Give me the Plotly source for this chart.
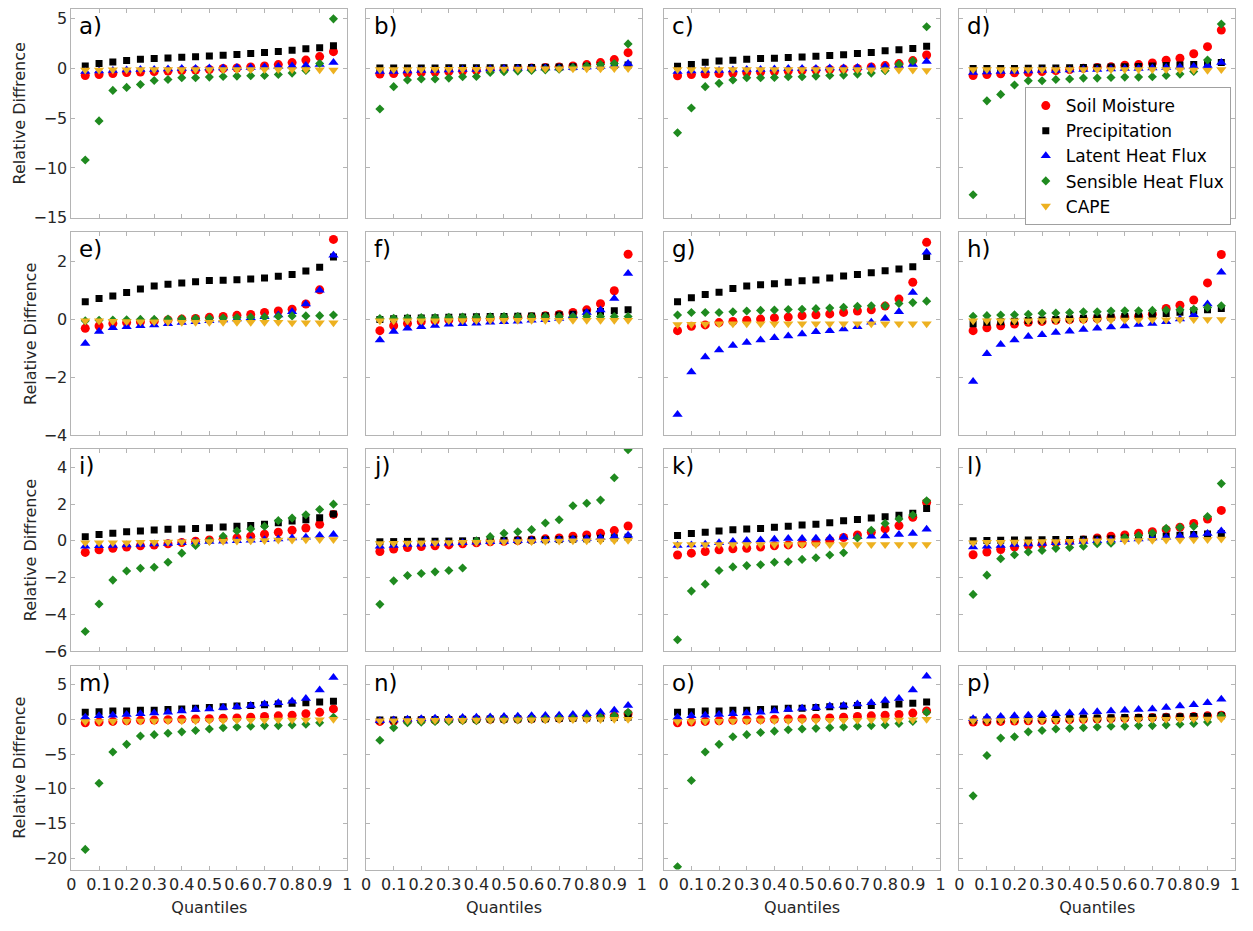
import plotly.graph_objects as go

# ---------------- data ----------------
quantiles = [0.05, 0.10, 0.15, 0.20, 0.25, 0.30, 0.35, 0.40, 0.45, 0.50,
             0.55, 0.60, 0.65, 0.70, 0.75, 0.80, 0.85, 0.90, 0.95]
xtick_vals = [0, 0.1, 0.2, 0.3, 0.4, 0.5, 0.6, 0.7, 0.8, 0.9, 1]
xtick_text = ["0", "0.1", "0.2", "0.3", "0.4", "0.5", "0.6", "0.7", "0.8", "0.9", "1"]

series_names = ["Soil Moisture", "Precipitation", "Latent Heat Flux", "Sensible Heat Flux", "CAPE"]
panel_labels = ["a)", "b)", "c)", "d)", "e)", "f)", "g)", "h)",
                "i)", "j)", "k)", "l)", "m)", "n)", "o)", "p)"]

row_ytick_vals = [[-15, -10, -5, 0, 5], [-4, -2, 0, 2], [-6, -4, -2, 0, 2, 4], [-20, -15, -10, -5, 0, 5]]
row_yranges = [[-15, 6], [-4, 3], [-6, 5], [-21.6, 7.7]]

# panel a
a_sm = [-0.7, -0.6, -0.5, -0.4, -0.35, -0.3, -0.25, -0.2, -0.15, -0.1, 0.0, 0.05, 0.15, 0.25, 0.4, 0.6, 0.85, 1.2, 1.7]
a_pr = [0.26, 0.5, 0.66, 0.8, 0.93, 1.0, 1.06, 1.13, 1.19, 1.26, 1.33, 1.42, 1.52, 1.62, 1.72, 1.85, 1.98, 2.1, 2.3]
a_lh = [-0.3, -0.25, -0.2, -0.15, -0.1, -0.1, -0.05, 0.0, 0.0, 0.05, 0.05, 0.1, 0.1, 0.15, 0.2, 0.25, 0.3, 0.4, 0.6]
a_sh = [-9.2, -5.27, -2.2, -1.9, -1.6, -1.2, -1.1, -0.93, -0.93, -0.86, -0.8, -0.76, -0.73, -0.7, -0.6, -0.46, -0.2, 0.5, 5.0]
a_cape = [-0.15, -0.15, -0.12, -0.12, -0.1, -0.1, -0.1, -0.1, -0.1, -0.1, -0.1, -0.1, -0.1, -0.1, -0.1, -0.1, -0.1, -0.12, -0.15]
# panel b
b_sm = [-0.55, -0.5, -0.45, -0.4, -0.35, -0.3, -0.25, -0.2, -0.1, -0.05, 0.0, 0.05, 0.1, 0.15, 0.25, 0.4, 0.6, 0.9, 1.6]
b_pr = [0.05, 0.05, 0.05, 0.06, 0.06, 0.07, 0.07, 0.08, 0.08, 0.09, 0.1, 0.1, 0.12, 0.15, 0.18, 0.22, 0.26, 0.3, 0.35]
b_lh = [-0.3, -0.3, -0.25, -0.2, -0.2, -0.15, -0.1, -0.1, -0.05, 0.0, 0.0, 0.0, 0.05, 0.05, 0.1, 0.15, 0.2, 0.3, 0.5]
b_sh = [-4.07, -1.82, -1.16, -1.06, -1.06, -0.96, -0.83, -0.8, -0.4, -0.33, -0.26, -0.2, -0.13, -0.07, 0.1, 0.26, 0.4, 0.5, 2.48]
b_cape = [-0.1, -0.1, -0.1, -0.1, -0.08, -0.08, -0.07, -0.06, -0.05, -0.05, -0.04, -0.04, -0.03, -0.03, -0.02, -0.02, -0.01, 0.0, 0.0]
# panel c
c_sm = [-0.73, -0.6, -0.55, -0.5, -0.45, -0.4, -0.35, -0.3, -0.25, -0.2, -0.15, -0.1, -0.05, 0.0, 0.15, 0.3, 0.5, 0.8, 1.36]
c_pr = [0.23, 0.4, 0.63, 0.76, 0.83, 0.93, 1.0, 1.03, 1.1, 1.16, 1.23, 1.32, 1.39, 1.52, 1.62, 1.79, 1.89, 2.02, 2.25]
c_lh = [-0.3, -0.25, -0.2, -0.2, -0.15, -0.1, -0.1, -0.05, 0.0, 0.0, 0.0, 0.05, 0.05, 0.1, 0.15, 0.2, 0.3, 0.4, 0.7]
c_sh = [-6.46, -3.97, -1.82, -1.49, -1.16, -0.93, -0.93, -0.9, -0.83, -0.83, -0.76, -0.7, -0.66, -0.56, -0.46, -0.23, 0.43, 0.76, 4.2]
c_cape = [-0.1, -0.1, -0.1, -0.1, -0.1, -0.1, -0.1, -0.1, -0.1, -0.1, -0.1, -0.1, -0.1, -0.1, -0.12, -0.12, -0.15, -0.15, -0.2]
# panel d
d_sm = [-0.7, -0.6, -0.53, -0.43, -0.4, -0.3, -0.2, -0.1, 0.03, 0.1, 0.17, 0.33, 0.4, 0.56, 0.83, 1.03, 1.49, 2.2, 3.87]
d_pr = [0.0, 0.0, 0.0, 0.0, 0.02, 0.05, 0.05, 0.08, 0.1, 0.12, 0.15, 0.18, 0.2, 0.25, 0.3, 0.35, 0.4, 0.45, 0.6]
d_lh = [-0.4, -0.35, -0.3, -0.3, -0.25, -0.2, -0.2, -0.15, -0.1, -0.1, -0.05, 0.0, 0.0, 0.05, 0.1, 0.15, 0.2, 0.3, 0.6]
d_sh = [-12.7, -3.25, -2.6, -1.66, -1.23, -1.23, -1.1, -1.06, -0.96, -0.96, -0.9, -0.86, -0.86, -0.83, -0.7, -0.56, -0.3, 0.86, 4.47]
d_cape = [-0.1, -0.1, -0.1, -0.1, -0.1, -0.1, -0.1, -0.1, -0.1, -0.1, -0.1, -0.1, -0.1, -0.1, -0.1, -0.12, -0.14, -0.16, -0.1]
# panel e
e_sm = [-0.31, -0.23, -0.14, -0.11, -0.08, -0.06, -0.02, 0.01, 0.03, 0.07, 0.1, 0.14, 0.17, 0.24, 0.29, 0.35, 0.53, 1.02, 2.76]
e_pr = [0.61, 0.72, 0.81, 0.93, 1.05, 1.15, 1.21, 1.26, 1.3, 1.34, 1.35, 1.37, 1.39, 1.43, 1.49, 1.55, 1.67, 1.8, 2.15]
e_lh = [-0.83, -0.42, -0.29, -0.25, -0.22, -0.19, -0.15, -0.11, -0.08, -0.05, -0.02, 0.01, 0.06, 0.09, 0.15, 0.26, 0.53, 1.01, 2.21]
e_sh = [-0.05, -0.03, -0.02, -0.01, 0.0, 0.0, 0.01, 0.02, 0.03, 0.04, 0.05, 0.06, 0.07, 0.08, 0.1, 0.12, 0.12, 0.13, 0.15]
e_cape = [-0.05, -0.05, -0.06, -0.07, -0.08, -0.08, -0.09, -0.1, -0.1, -0.1, -0.1, -0.1, -0.1, -0.1, -0.1, -0.12, -0.12, -0.12, -0.12]
# panel f
f_sm = [-0.39, -0.22, -0.14, -0.08, -0.05, -0.02, 0.0, 0.02, 0.03, 0.06, 0.07, 0.09, 0.13, 0.17, 0.24, 0.33, 0.54, 0.99, 2.25]
f_pr = [0.0, 0.02, 0.04, 0.05, 0.06, 0.07, 0.08, 0.09, 0.1, 0.1, 0.11, 0.12, 0.13, 0.15, 0.18, 0.22, 0.27, 0.3, 0.33]
f_lh = [-0.71, -0.42, -0.31, -0.25, -0.21, -0.17, -0.15, -0.13, -0.1, -0.08, -0.06, -0.03, -0.01, 0.03, 0.13, 0.24, 0.32, 0.72, 1.58]
f_sh = [0.03, 0.04, 0.05, 0.06, 0.06, 0.07, 0.08, 0.08, 0.09, 0.1, 0.1, 0.1, 0.1, 0.1, 0.1, 0.1, 0.1, 0.1, 0.1]
f_cape = [-0.05, -0.05, -0.05, -0.05, -0.05, -0.04, -0.04, -0.04, -0.03, -0.03, -0.03, -0.03, -0.03, -0.03, -0.03, -0.03, -0.03, -0.03, -0.03]
# panel g
g_sm = [-0.39, -0.24, -0.19, -0.11, -0.07, -0.03, 0.01, 0.05, 0.08, 0.13, 0.16, 0.19, 0.24, 0.29, 0.33, 0.46, 0.7, 1.28, 2.66]
g_pr = [0.61, 0.75, 0.86, 0.94, 1.07, 1.15, 1.2, 1.23, 1.28, 1.33, 1.36, 1.43, 1.5, 1.55, 1.61, 1.68, 1.74, 1.82, 2.17]
g_lh = [-3.28, -1.82, -1.3, -1.06, -0.9, -0.8, -0.71, -0.63, -0.57, -0.5, -0.43, -0.39, -0.33, -0.25, -0.1, 0.03, 0.26, 0.93, 2.32]
g_sh = [0.15, 0.24, 0.24, 0.24, 0.26, 0.29, 0.31, 0.32, 0.34, 0.35, 0.37, 0.39, 0.42, 0.45, 0.47, 0.47, 0.55, 0.58, 0.63]
g_cape = [-0.18, -0.17, -0.16, -0.15, -0.15, -0.15, -0.15, -0.15, -0.15, -0.15, -0.15, -0.15, -0.15, -0.15, -0.15, -0.15, -0.15, -0.15, -0.15]
# panel h
h_sm = [-0.39, -0.29, -0.22, -0.16, -0.1, -0.07, -0.03, -0.01, 0.01, 0.03, 0.06, 0.08, 0.11, 0.18, 0.38, 0.49, 0.67, 1.26, 2.24]
h_pr = [-0.15, -0.1, -0.08, -0.06, -0.04, -0.02, 0.0, 0.02, 0.04, 0.06, 0.08, 0.1, 0.12, 0.15, 0.2, 0.25, 0.3, 0.33, 0.38]
h_lh = [-2.14, -1.19, -0.87, -0.71, -0.59, -0.53, -0.45, -0.41, -0.35, -0.31, -0.26, -0.23, -0.18, -0.14, -0.08, 0.01, 0.16, 0.53, 1.63]
h_sh = [0.11, 0.13, 0.15, 0.16, 0.18, 0.21, 0.22, 0.24, 0.26, 0.26, 0.29, 0.3, 0.3, 0.31, 0.32, 0.33, 0.35, 0.41, 0.47]
h_cape = [-0.05, -0.05, -0.05, -0.05, -0.05, -0.04, -0.04, -0.03, -0.03, -0.03, -0.02, -0.02, -0.02, -0.01, -0.01, 0.0, 0.0, 0.0, 0.0]
# panel i
i_sm = [-0.63, -0.49, -0.4, -0.34, -0.27, -0.23, -0.16, -0.09, -0.02, 0.05, 0.09, 0.16, 0.25, 0.36, 0.47, 0.58, 0.7, 0.9, 1.44]
i_pr = [0.23, 0.34, 0.41, 0.49, 0.54, 0.59, 0.63, 0.65, 0.68, 0.72, 0.76, 0.79, 0.83, 0.9, 0.99, 1.08, 1.15, 1.26, 1.46]
i_lh = [-0.3, -0.27, -0.25, -0.22, -0.2, -0.17, -0.14, -0.1, -0.07, -0.04, -0.02, 0.0, 0.03, 0.06, 0.1, 0.15, 0.2, 0.29, 0.34]
i_sh = [-4.94, -3.44, -2.14, -1.64, -1.49, -1.44, -1.17, -0.67, -0.25, 0.0, 0.25, 0.54, 0.65, 0.79, 1.1, 1.24, 1.42, 1.71, 2.0]
i_cape = [-0.1, -0.1, -0.1, -0.1, -0.08, -0.07, -0.06, -0.05, -0.04, -0.03, -0.02, -0.01, 0.0, 0.02, 0.04, 0.05, 0.06, 0.07, 0.07]
# panel j
j_sm = [-0.58, -0.45, -0.36, -0.31, -0.27, -0.22, -0.16, -0.11, -0.05, -0.02, 0.02, 0.05, 0.11, 0.16, 0.25, 0.32, 0.41, 0.56, 0.81]
j_pr = [-0.05, -0.04, -0.03, -0.02, -0.02, -0.01, 0.0, 0.01, 0.02, 0.03, 0.04, 0.05, 0.06, 0.07, 0.09, 0.11, 0.14, 0.17, 0.2]
j_lh = [-0.3, -0.25, -0.2, -0.18, -0.15, -0.13, -0.1, -0.08, -0.05, -0.03, 0.0, 0.02, 0.05, 0.07, 0.1, 0.13, 0.17, 0.22, 0.3]
j_sh = [-3.46, -2.18, -1.89, -1.78, -1.69, -1.62, -1.48, 0.0, 0.23, 0.41, 0.49, 0.61, 0.97, 1.15, 1.91, 2.05, 2.22, 3.44, 4.97]
j_cape = [-0.15, -0.13, -0.12, -0.1, -0.1, -0.09, -0.08, -0.07, -0.06, -0.05, -0.04, -0.03, -0.02, -0.01, 0.0, 0.0, 0.01, 0.02, 0.03]
# panel k
k_sm = [-0.77, -0.67, -0.58, -0.49, -0.43, -0.4, -0.34, -0.27, -0.22, -0.16, -0.09, 0.02, 0.18, 0.32, 0.47, 0.65, 0.83, 1.28, 2.09]
k_pr = [0.29, 0.4, 0.47, 0.54, 0.61, 0.65, 0.68, 0.74, 0.79, 0.86, 0.9, 0.99, 1.1, 1.17, 1.24, 1.32, 1.39, 1.51, 1.77]
k_lh = [-0.25, -0.22, -0.18, -0.11, -0.04, 0.02, 0.05, 0.09, 0.13, 0.13, 0.14, 0.16, 0.2, 0.23, 0.25, 0.27, 0.34, 0.4, 0.63]
k_sh = [-5.39, -2.74, -2.36, -1.62, -1.42, -1.35, -1.3, -1.17, -1.14, -1.01, -0.92, -0.77, -0.65, 0.16, 0.58, 0.95, 1.19, 1.41, 2.18]
k_cape = [-0.2, -0.2, -0.2, -0.2, -0.2, -0.2, -0.2, -0.2, -0.2, -0.2, -0.2, -0.2, -0.2, -0.2, -0.2, -0.2, -0.2, -0.2, -0.2]
# panel l
l_sm = [-0.76, -0.61, -0.47, -0.34, -0.25, -0.18, -0.11, -0.04, 0.04, 0.16, 0.25, 0.32, 0.41, 0.5, 0.61, 0.74, 0.95, 1.19, 1.66]
l_pr = [0.0, 0.02, 0.03, 0.04, 0.05, 0.06, 0.07, 0.08, 0.09, 0.1, 0.12, 0.15, 0.18, 0.2, 0.25, 0.3, 0.35, 0.38, 0.4]
l_lh = [-0.34, -0.29, -0.25, -0.2, -0.17, -0.14, -0.1, -0.07, -0.04, 0.0, 0.03, 0.07, 0.1, 0.15, 0.2, 0.27, 0.3, 0.4, 0.54]
l_sh = [-2.92, -1.87, -0.97, -0.76, -0.61, -0.52, -0.41, -0.36, -0.29, -0.16, -0.13, 0.18, 0.29, 0.43, 0.68, 0.74, 0.79, 1.33, 3.12]
l_cape = [-0.1, -0.08, -0.07, -0.06, -0.05, -0.04, -0.03, -0.02, -0.01, 0.0, 0.0, 0.01, 0.02, 0.03, 0.04, 0.05, 0.06, 0.08, 0.1]
# panel m
m_sm = [-0.5, -0.4, -0.3, -0.2, -0.15, -0.1, -0.05, 0.0, 0.05, 0.1, 0.15, 0.2, 0.3, 0.4, 0.5, 0.6, 0.8, 1.0, 1.5]
m_pr = [1.0, 1.1, 1.2, 1.2, 1.3, 1.3, 1.4, 1.5, 1.6, 1.7, 1.8, 1.9, 2.0, 2.1, 2.2, 2.3, 2.4, 2.5, 2.6]
m_lh = [0.3, 0.5, 0.6, 0.7, 0.8, 0.9, 1.0, 1.2, 1.4, 1.5, 1.7, 1.8, 2.0, 2.2, 2.4, 2.6, 3.0, 4.2, 6.0]
m_sh = [-18.7, -9.2, -4.7, -3.6, -2.4, -2.2, -2.0, -1.8, -1.6, -1.4, -1.2, -1.1, -1.0, -0.9, -0.9, -0.8, -0.7, -0.5, 0.3]
m_cape = [-0.3, -0.3, -0.28, -0.26, -0.25, -0.24, -0.22, -0.2, -0.2, -0.18, -0.16, -0.15, -0.14, -0.12, -0.1, -0.1, -0.08, -0.05, 0.0]
# panel n
n_sm = [-0.3, -0.25, -0.2, -0.15, -0.1, -0.08, -0.05, -0.02, 0.0, 0.03, 0.05, 0.08, 0.1, 0.15, 0.2, 0.25, 0.35, 0.5, 0.8]
n_pr = [-0.1, -0.08, -0.06, -0.05, -0.03, -0.02, 0.0, 0.02, 0.03, 0.05, 0.07, 0.08, 0.1, 0.12, 0.15, 0.18, 0.2, 0.25, 0.3]
n_lh = [-0.2, -0.1, 0.0, 0.1, 0.15, 0.2, 0.25, 0.3, 0.35, 0.4, 0.45, 0.5, 0.55, 0.6, 0.7, 0.8, 1.0, 1.3, 2.0]
n_sh = [-3.0, -1.2, -0.5, -0.4, -0.3, -0.3, -0.2, -0.2, -0.1, -0.1, -0.1, 0.0, 0.0, 0.1, 0.1, 0.2, 0.3, 0.5, 1.0]
n_cape = [-0.2, -0.2, -0.18, -0.16, -0.15, -0.14, -0.12, -0.1, -0.1, -0.08, -0.07, -0.06, -0.05, -0.04, -0.03, -0.02, -0.01, 0.0, 0.0]
# panel o
o_sm = [-0.5, -0.4, -0.3, -0.2, -0.15, -0.1, -0.05, 0.0, 0.05, 0.1, 0.15, 0.2, 0.3, 0.4, 0.5, 0.6, 0.7, 0.9, 1.2]
o_pr = [1.0, 1.1, 1.2, 1.2, 1.3, 1.3, 1.4, 1.5, 1.6, 1.6, 1.7, 1.8, 1.9, 2.0, 2.0, 2.1, 2.2, 2.3, 2.5]
o_lh = [0.3, 0.5, 0.6, 0.7, 0.8, 0.9, 1.0, 1.2, 1.4, 1.6, 1.7, 1.9, 2.0, 2.2, 2.4, 2.7, 3.0, 4.2, 6.2]
o_sh = [-21.2, -8.8, -4.7, -3.6, -2.5, -2.2, -1.9, -1.7, -1.5, -1.4, -1.3, -1.2, -1.1, -1.0, -0.9, -0.8, -0.6, -0.3, 1.0]
o_cape = [-0.3, -0.3, -0.28, -0.26, -0.25, -0.24, -0.22, -0.2, -0.2, -0.18, -0.16, -0.15, -0.14, -0.12, -0.1, -0.1, -0.08, -0.05, 0.0]
# panel p
p_sm = [-0.4, -0.35, -0.3, -0.25, -0.2, -0.15, -0.1, -0.05, 0.0, 0.05, 0.1, 0.15, 0.2, 0.25, 0.3, 0.35, 0.4, 0.5, 0.6]
p_pr = [-0.1, -0.05, 0.0, 0.05, 0.08, 0.1, 0.12, 0.15, 0.18, 0.2, 0.22, 0.25, 0.28, 0.3, 0.33, 0.36, 0.4, 0.45, 0.5]
p_lh = [0.1, 0.3, 0.4, 0.5, 0.6, 0.7, 0.8, 0.9, 1.0, 1.1, 1.2, 1.3, 1.4, 1.5, 1.7, 1.9, 2.1, 2.4, 2.9]
p_sh = [-11.0, -5.2, -2.7, -2.5, -1.8, -1.6, -1.4, -1.3, -1.2, -1.1, -1.0, -1.0, -0.9, -0.9, -0.8, -0.7, -0.6, -0.4, 0.5]
p_cape = [-0.2, -0.2, -0.18, -0.16, -0.15, -0.14, -0.12, -0.1, -0.08, -0.06, -0.05, -0.04, -0.02, 0.0, 0.0, 0.02, 0.04, 0.06, 0.1]

panels = [
    (a_sm, a_pr, a_lh, a_sh, a_cape), (b_sm, b_pr, b_lh, b_sh, b_cape),
    (c_sm, c_pr, c_lh, c_sh, c_cape), (d_sm, d_pr, d_lh, d_sh, d_cape),
    (e_sm, e_pr, e_lh, e_sh, e_cape), (f_sm, f_pr, f_lh, f_sh, f_cape),
    (g_sm, g_pr, g_lh, g_sh, g_cape), (h_sm, h_pr, h_lh, h_sh, h_cape),
    (i_sm, i_pr, i_lh, i_sh, i_cape), (j_sm, j_pr, j_lh, j_sh, j_cape),
    (k_sm, k_pr, k_lh, k_sh, k_cape), (l_sm, l_pr, l_lh, l_sh, l_cape),
    (m_sm, m_pr, m_lh, m_sh, m_cape), (n_sm, n_pr, n_lh, n_sh, n_cape),
    (o_sm, o_pr, o_lh, o_sh, o_cape), (p_sm, p_pr, p_lh, p_sh, p_cape),
]

# ---------------- styling ----------------
W, H = 1253, 931
FONT = "DejaVu Sans"
TXT = "#262626"
AXC = "#b4b4b4"
styles = [
    dict(symbol="circle", color="#ff0000", size=9),
    dict(symbol="square", color="#000000", size=7),
    dict(symbol="triangle-up", color="#0000ff", size=9),
    dict(symbol="diamond", color="#1f8a1f", size=7),
    dict(symbol="triangle-down", color="#edb120", size=9),
]
col_px = [(67, 345), (364, 642), (664, 943), (962, 1240)]
row_px = [(9, 220), (235, 440), (454, 658), (673, 879)]

fig = go.Figure()
layout_axes = {}
annotations = []
for idx, vals in enumerate(panels):
    r, c = divmod(idx, 4)
    n = idx + 1
    xa = "x" if n == 1 else f"x{n}"
    ya = "y" if n == 1 else f"y{n}"
    for s, (name, yv) in enumerate(zip(series_names, vals)):
        st = styles[s]
        fig.add_trace(go.Scatter(
            x=quantiles, y=yv, mode="markers", name=name,
            xaxis=xa, yaxis=ya, legendgroup=name, showlegend=(idx == 0),
            marker=dict(symbol=st["symbol"], color=st["color"], size=st["size"],
                        line=dict(width=0)),
        ))
    x0, x1 = col_px[c]
    y0, y1 = row_px[r]
    xkey = "xaxis" if n == 1 else f"xaxis{n}"
    ykey = "yaxis" if n == 1 else f"yaxis{n}"
    layout_axes[xkey] = dict(
        domain=[x0 / W, x1 / W], range=[0, 1], anchor=ya,
        tickmode="array", tickvals=xtick_vals, ticktext=xtick_text,
        showticklabels=(r == 3), ticks="inside", ticklen=4, tickcolor=AXC,
        mirror="ticks", showline=True, linecolor=AXC, linewidth=1,
        showgrid=False, zeroline=False,
        tickfont=dict(family=FONT, size=16, color=TXT),
        title=dict(text="Quantiles" if r == 3 else "", standoff=9,
                   font=dict(family=FONT, size=16, color=TXT)),
    )
    layout_axes[ykey] = dict(
        domain=[1 - y1 / H, 1 - y0 / H], range=row_yranges[r], anchor=xa,
        tickmode="array", tickvals=row_ytick_vals[r],
        ticktext=[str(v).replace("-", "\u2212") for v in row_ytick_vals[r]],
        showticklabels=(c == 0), ticks="inside", ticklen=4, tickcolor=AXC,
        mirror="ticks", showline=True, linecolor=AXC, linewidth=1,
        showgrid=False, zeroline=False,
        tickfont=dict(family=FONT, size=16, color=TXT),
        title=dict(text="Relative Diffrence" if c == 0 else "", standoff=3,
                   font=dict(family=FONT, size=16, color=TXT)),
    )
    annotations.append(dict(
        text=panel_labels[idx], xref="paper", yref="paper",
        x=(x0 + 6) / W, y=1 - (y0 + 2) / H, xanchor="left", yanchor="top",
        showarrow=False, font=dict(family=FONT, size=23, color="#000000"),
    ))

fig.update_layout(
    width=W, height=H, margin=dict(l=0, r=0, t=0, b=0),
    paper_bgcolor="white", plot_bgcolor="white",
    font=dict(family=FONT, size=16, color=TXT),
    showlegend=True,
    legend=dict(
        x=1028 / W, y=1 - 88 / H, xanchor="left", yanchor="top",
        bgcolor="white", bordercolor="#a0a0a0", borderwidth=1,
        font=dict(family=FONT, size=17, color="#000000"),
        tracegroupgap=0, itemwidth=30,
    ),
    annotations=annotations,
    **layout_axes,
)

fig.write_html("out.html")
